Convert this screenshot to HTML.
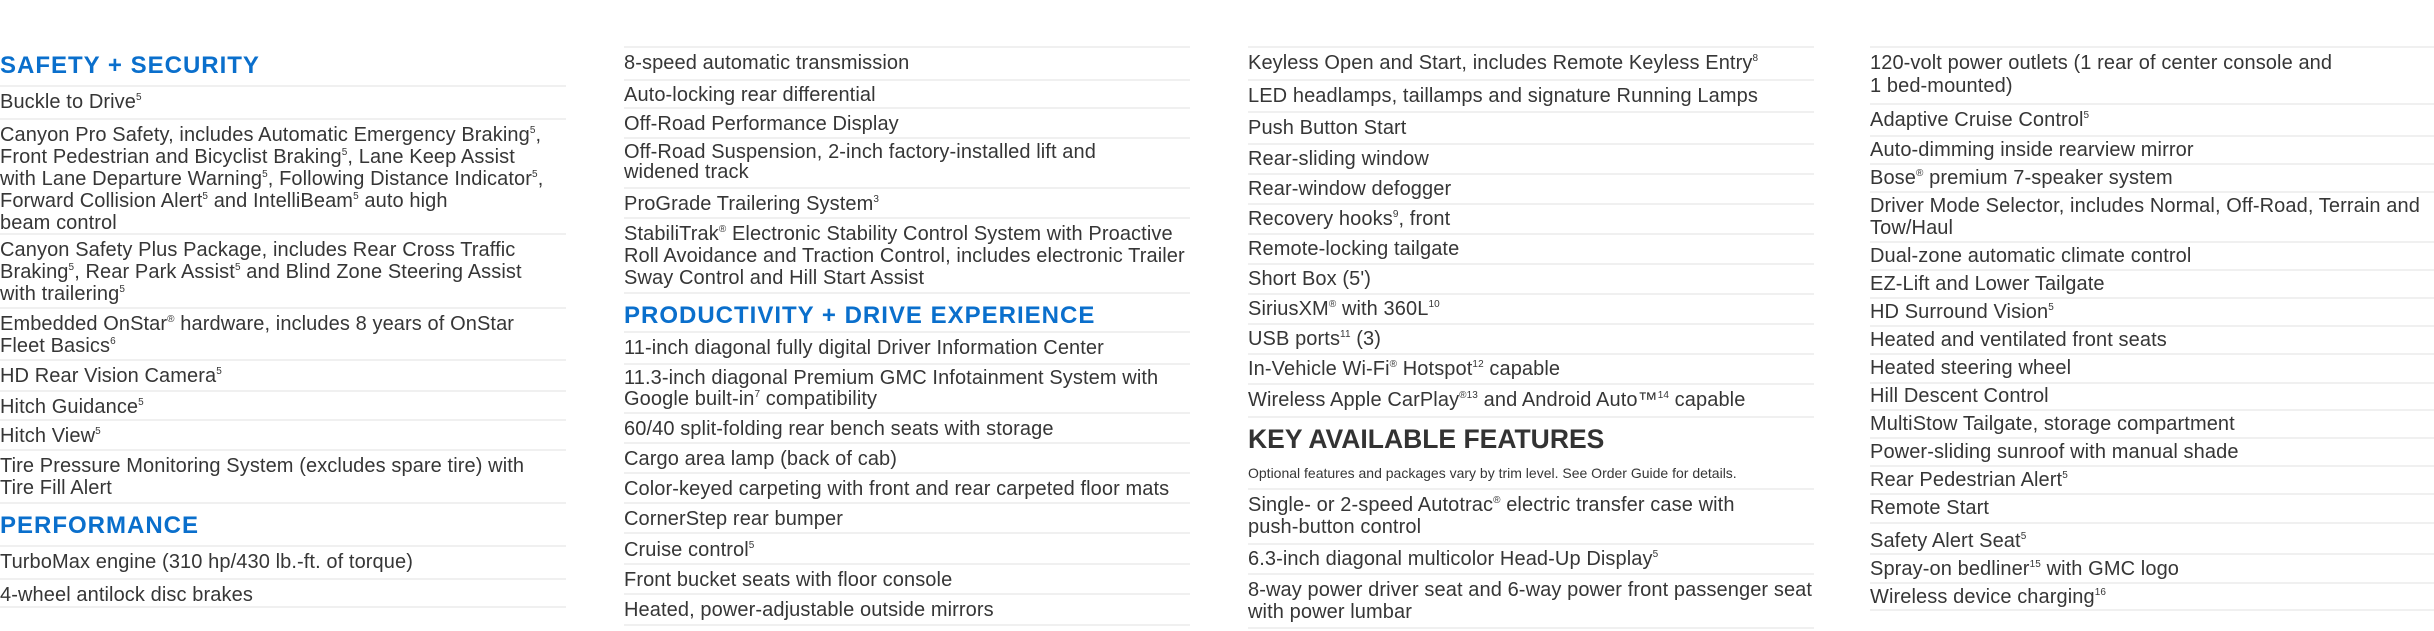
<!DOCTYPE html>
<html><head><meta charset="utf-8"><style>
html,body{margin:0;padding:0;background:#fff;}
body{width:2434px;height:631px;position:relative;overflow:hidden;font-family:"Liberation Sans",sans-serif;color:#363636;}
.l{position:absolute;height:2px;background:#f0f0f0;}
.t{position:absolute;font-size:20px;line-height:22px;white-space:nowrap;letter-spacing:0.1px;}
.h{position:absolute;font-size:24px;line-height:24px;font-weight:bold;color:#0a6fcc;letter-spacing:1px;white-space:nowrap;}
sup{font-size:10px;line-height:0;vertical-align:8px;}
.c1 .l{left:0;width:566px}.c1 .t{left:0}
.c2 .l{left:624px;width:566px}.c2 .t{left:624px}
.c3 .l{left:1248px;width:566px}.c3 .t{left:1248px}
.c4 .l{left:1870px;width:564px}.c4 .t{left:1870px}
</style></head><body>
<div class="c1">
<div class="h" style="left:0;top:54px">SAFETY + SECURITY</div>
<div class="l" style="top:85px"></div><div class="t" style="top:91px">Buckle to Drive<sup>5</sup></div>
<div class="l" style="top:118px"></div><div class="t" style="top:124px">Canyon Pro Safety, includes Automatic Emergency Braking<sup>5</sup>,<br>Front Pedestrian and Bicyclist Braking<sup>5</sup>, Lane Keep Assist<br>with Lane Departure Warning<sup>5</sup>, Following Distance Indicator<sup>5</sup>,<br>Forward Collision Alert<sup>5</sup> and IntelliBeam<sup>5</sup> auto high<br>beam control</div>
<div class="l" style="top:233px"></div><div class="t" style="top:239px">Canyon Safety Plus Package, includes Rear Cross Traffic<br>Braking<sup>5</sup>, Rear Park Assist<sup>5</sup> and Blind Zone Steering Assist<br>with trailering<sup>5</sup></div>
<div class="l" style="top:307px"></div><div class="t" style="top:313px">Embedded OnStar<sup>®</sup> hardware, includes 8 years of OnStar<br>Fleet Basics<sup>6</sup></div>
<div class="l" style="top:359px"></div><div class="t" style="top:365px">HD Rear Vision Camera<sup>5</sup></div>
<div class="l" style="top:390px"></div><div class="t" style="top:396px">Hitch Guidance<sup>5</sup></div>
<div class="l" style="top:419px"></div><div class="t" style="top:425px">Hitch View<sup>5</sup></div>
<div class="l" style="top:449px"></div><div class="t" style="top:455px">Tire Pressure Monitoring System (excludes spare tire) with<br>Tire Fill Alert</div>
<div class="l" style="top:502px"></div>
<div class="h" style="left:0;top:514px">PERFORMANCE</div>
<div class="l" style="top:545px"></div><div class="t" style="top:551px">TurboMax engine (310 hp/430 lb.-ft. of torque)</div>
<div class="l" style="top:578px"></div><div class="t" style="top:584px">4-wheel antilock disc brakes</div>
<div class="l" style="top:606px"></div>
</div>
<div class="c2">
<div class="l" style="top:46px"></div><div class="t" style="top:52px">8-speed automatic transmission</div>
<div class="l" style="top:79px"></div><div class="t" style="top:84px">Auto-locking rear differential</div>
<div class="l" style="top:107px"></div><div class="t" style="top:113px">Off-Road Performance Display</div>
<div class="l" style="top:137px"></div><div class="t" style="top:142px;line-height:20px">Off-Road Suspension, 2-inch factory-installed lift and<br>widened track</div>
<div class="l" style="top:187px"></div><div class="t" style="top:193px">ProGrade Trailering System<sup>3</sup></div>
<div class="l" style="top:217px"></div><div class="t" style="top:223px">StabiliTrak<sup>®</sup> Electronic Stability Control System with Proactive<br>Roll Avoidance and Traction Control, includes electronic Trailer<br>Sway Control and Hill Start Assist</div>
<div class="l" style="top:292px"></div>
<div class="h" style="left:624px;top:304px">PRODUCTIVITY + DRIVE EXPERIENCE</div>
<div class="l" style="top:331px"></div><div class="t" style="top:337px">11-inch diagonal fully digital Driver Information Center</div>
<div class="l" style="top:363px"></div><div class="t" style="top:368px;line-height:21px">11.3-inch diagonal Premium GMC Infotainment System with<br>Google built-in<sup>7</sup> compatibility</div>
<div class="l" style="top:412px"></div><div class="t" style="top:418px">60/40 split-folding rear bench seats with storage</div>
<div class="l" style="top:442px"></div><div class="t" style="top:448px">Cargo area lamp (back of cab)</div>
<div class="l" style="top:472px"></div><div class="t" style="top:478px">Color-keyed carpeting with front and rear carpeted floor mats</div>
<div class="l" style="top:502px"></div><div class="t" style="top:508px">CornerStep rear bumper</div>
<div class="l" style="top:532px"></div><div class="t" style="top:539px">Cruise control<sup>5</sup></div>
<div class="l" style="top:563px"></div><div class="t" style="top:569px">Front bucket seats with floor console</div>
<div class="l" style="top:593px"></div><div class="t" style="top:599px">Heated, power-adjustable outside mirrors</div>
<div class="l" style="top:624px"></div>
</div>
<div class="c3">
<div class="l" style="top:46px"></div><div class="t" style="top:52px">Keyless Open and Start, includes Remote Keyless Entry<sup>8</sup></div>
<div class="l" style="top:79px"></div><div class="t" style="top:85px">LED headlamps, taillamps and signature Running Lamps</div>
<div class="l" style="top:111px"></div><div class="t" style="top:117px">Push Button Start</div>
<div class="l" style="top:143px"></div><div class="t" style="top:148px">Rear-sliding window</div>
<div class="l" style="top:173px"></div><div class="t" style="top:178px">Rear-window defogger</div>
<div class="l" style="top:203px"></div><div class="t" style="top:208px">Recovery hooks<sup>9</sup>, front</div>
<div class="l" style="top:233px"></div><div class="t" style="top:238px">Remote-locking tailgate</div>
<div class="l" style="top:263px"></div><div class="t" style="top:268px">Short Box (5')</div>
<div class="l" style="top:293px"></div><div class="t" style="top:298px">SiriusXM<sup>®</sup> with 360L<sup>10</sup></div>
<div class="l" style="top:323px"></div><div class="t" style="top:328px">USB ports<sup>11</sup> (3)</div>
<div class="l" style="top:353px"></div><div class="t" style="top:358px">In-Vehicle Wi-Fi<sup>®</sup> Hotspot<sup>12</sup> capable</div>
<div class="l" style="top:383px"></div><div class="t" style="top:389px">Wireless Apple CarPlay<sup>®13</sup> and Android Auto™<sup>14</sup> capable</div>
<div class="l" style="top:416px"></div>
<div style="position:absolute;left:1248px;top:427px;font-size:26.5px;line-height:24px;font-weight:bold;color:#333;white-space:nowrap">KEY AVAILABLE FEATURES</div>
<div style="position:absolute;left:1248px;top:466px;font-size:14px;line-height:15px;white-space:nowrap">Optional features and packages vary by trim level. See Order Guide for details.</div>
<div class="l" style="top:488px"></div><div class="t" style="top:494px">Single- or 2-speed Autotrac<sup>®</sup> electric transfer case with<br>push-button control</div>
<div class="l" style="top:543px"></div><div class="t" style="top:548px">6.3-inch diagonal multicolor Head-Up Display<sup>5</sup></div>
<div class="l" style="top:573px"></div><div class="t" style="top:579px">8-way power driver seat and 6-way power front passenger seat<br>with power lumbar</div>
<div class="l" style="top:627px"></div>
</div>
<div class="c4">
<div class="l" style="top:46px"></div><div class="t" style="top:52px;line-height:23px">120-volt power outlets (1 rear of center console and<br>1 bed-mounted)</div>
<div class="l" style="top:103px"></div><div class="t" style="top:109px">Adaptive Cruise Control<sup>5</sup></div>
<div class="l" style="top:135px"></div><div class="t" style="top:139px">Auto-dimming inside rearview mirror</div>
<div class="l" style="top:163px"></div><div class="t" style="top:167px">Bose<sup>®</sup> premium 7-speaker system</div>
<div class="l" style="top:191px"></div><div class="t" style="top:195px">Driver Mode Selector, includes Normal, Off-Road, Terrain and<br>Tow/Haul</div>
<div class="l" style="top:241px"></div><div class="t" style="top:245px">Dual-zone automatic climate control</div>
<div class="l" style="top:269px"></div><div class="t" style="top:273px">EZ-Lift and Lower Tailgate</div>
<div class="l" style="top:297px"></div><div class="t" style="top:301px">HD Surround Vision<sup>5</sup></div>
<div class="l" style="top:325px"></div><div class="t" style="top:329px">Heated and ventilated front seats</div>
<div class="l" style="top:353px"></div><div class="t" style="top:357px">Heated steering wheel</div>
<div class="l" style="top:382px"></div><div class="t" style="top:385px">Hill Descent Control</div>
<div class="l" style="top:409px"></div><div class="t" style="top:413px">MultiStow Tailgate, storage compartment</div>
<div class="l" style="top:437px"></div><div class="t" style="top:441px">Power-sliding sunroof with manual shade</div>
<div class="l" style="top:465px"></div><div class="t" style="top:469px">Rear Pedestrian Alert<sup>5</sup></div>
<div class="l" style="top:493px"></div><div class="t" style="top:497px">Remote Start</div>
<div class="l" style="top:522px"></div><div class="t" style="top:530px">Safety Alert Seat<sup>5</sup></div>
<div class="l" style="top:553px"></div><div class="t" style="top:558px">Spray-on bedliner<sup>15</sup> with GMC logo</div>
<div class="l" style="top:582px"></div><div class="t" style="top:586px">Wireless device charging<sup>16</sup></div>
<div class="l" style="top:609px"></div>
</div>
</body></html>
